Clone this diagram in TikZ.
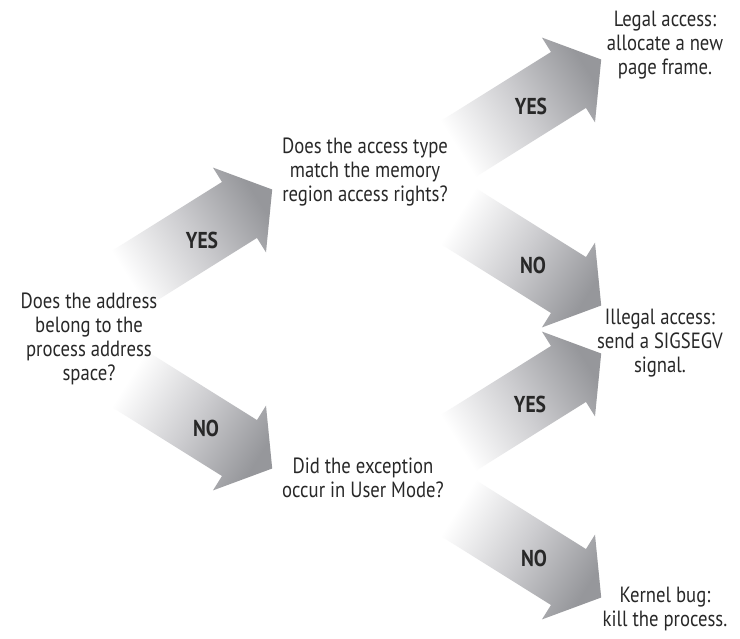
\documentclass[tikz,border=0pt]{standalone}
\usepackage{fontspec}
\setmainfont{PT Sans}[FakeStretch=0.85]
\usetikzlibrary{calc}

\definecolor{inkgray}{RGB}{40,40,40}
\definecolor{headgray}{RGB}{150,151,155}
\definecolor{midgray}{RGB}{205,205,208}
\newcommand{\qfont}{\fontsize{22}{24}\selectfont}
\newcommand{\lblfont}{\fontsize{23}{24}\selectfont\bfseries}

\tikzset{
  question/.style={align=center, inner sep=0pt, anchor=north, font=\qfont, text=inkgray},
  outcome/.style={question},
  answer/.style={inner sep=0pt, font=\lblfont, text=inkgray},
  arrowup/.style={top color=headgray, bottom color=white, middle color=midgray, shading angle=-58},
  arrowdown/.style={top color=headgray, bottom color=white, middle color=midgray, shading angle=-122},
}

% Broad shaded arrow from a tail midpoint (#1) to a tip (#2)
\newcommand{\bigarrow}[3]{%
  \coordinate (#2-base) at ($(#2)!38.6pt!(#1)$);
  \shade[#3] ($(#1)!33pt!90:(#2)$) -- ($(#2-base)!33pt!90:(#2)$)
    -- ($(#2-base)!50pt!90:(#2)$) -- (#2)
    -- ($(#2-base)!50pt!-90:(#2)$) -- ($(#2-base)!33pt!-90:(#2)$)
    -- ($(#1)!33pt!-90:(#2)$) -- cycle;
}

\begin{document}
\begin{tikzpicture}[x=1pt, y=-1pt]
  \fill[white] (0,0) rectangle (740,639);
  \useasboundingbox (0,0) rectangle (740,639);

  % arrow tails and tips
  \coordinate (t1) at (129.3,278.9); \coordinate (h1) at (272.2,189.5);
  \coordinate (t2) at (129.3,379.1); \coordinate (h2) at (272.2,468.5);
  \coordinate (t3) at (458.3,148.9); \coordinate (h3) at (601.2,59.5);
  \coordinate (t4) at (458.3,216.1); \coordinate (h4) at (601.2,305.5);
  \coordinate (t5) at (458.3,442.9); \coordinate (h5) at (601.2,353.5);
  \coordinate (t6) at (458.3,508.1); \coordinate (h6) at (601.2,597.5);

  \bigarrow{t1}{h1}{arrowup}
  \bigarrow{t2}{h2}{arrowdown}
  \bigarrow{t3}{h3}{arrowup}
  \bigarrow{t4}{h4}{arrowdown}
  \bigarrow{t5}{h5}{arrowup}
  \bigarrow{t6}{h6}{arrowdown}

  % answers on the arrows
  \node[answer] (yes1) at (202,240) {YES};
  \node[answer] (no1)  at (206,428) {NO};
  \node[answer] (yes2) at (531,106) {YES};
  \node[answer] (no2)  at (533,265) {NO};
  \node[answer] (yes3) at (530,404) {YES};
  \node[answer] (no3)  at (534,558) {NO};

  % questions
  \node[question] (q1) at (89,293) {Does the address\\belong to the\\process address\\space?};
  \node[question] (q2) at (365,138) {Does the access type\\match the memory\\region access rights?};
  \node[question] (q3) at (363,458) {Did the exception\\occur in User Mode?};

  % outcomes
  \node[outcome] (r1) at (665,11) {Legal access:\\allocate a new\\page frame.};
  \node[outcome] (r2) at (660,309) {Illegal access:\\send a SIGSEGV\\signal.};
  \node[outcome] (r3) at (665,587) {Kernel bug:\\kill the process.};
\end{tikzpicture}
\end{document}
